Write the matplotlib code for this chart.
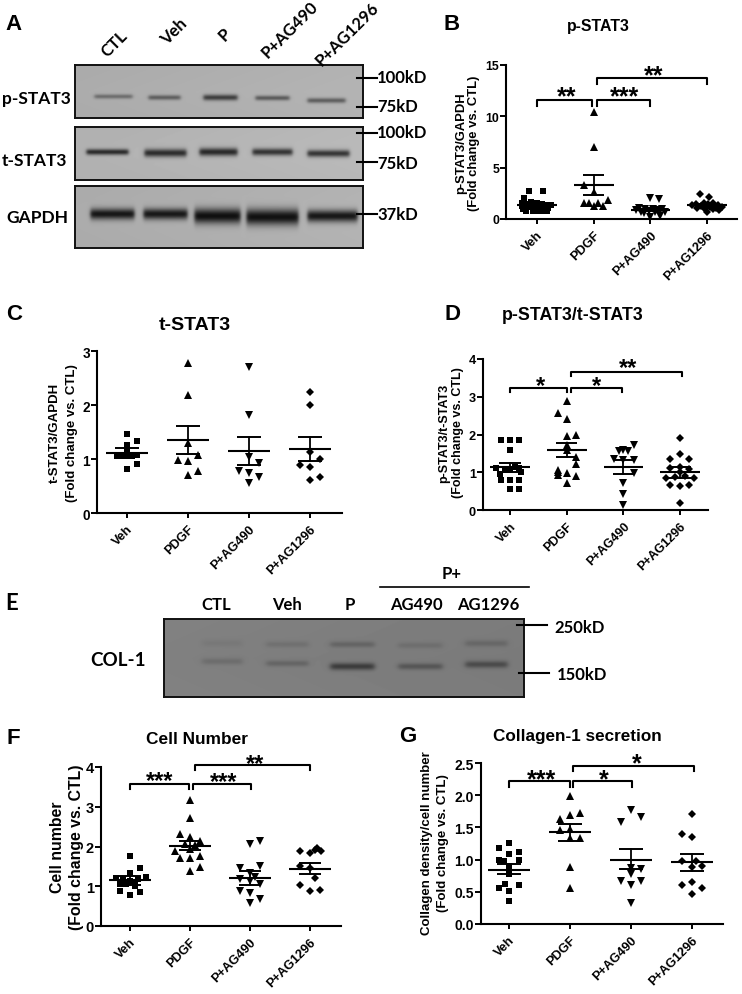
import numpy as np
import matplotlib
matplotlib.use("Agg")
import matplotlib.pyplot as plt
from matplotlib.transforms import ScaledTranslation

plt.rcParams['font.family'] = ['Liberation Sans', 'DejaVu Sans']
plt.rcParams['font.weight'] = 'bold'

W, H = 742, 995

# ---------- data ----------
groups = ["Veh", "PDGF", "P+AG490", "P+AG1296"]

B_values = [
    [2.7, 2.7, 2.0, 1.7, 1.6, 1.55, 1.5, 1.45, 1.4, 1.4, 1.3, 1.25, 1.2, 1.1, 1.05, 0.95, 0.9, 0.8, 0.8, 0.8, 0.75, 0.75],
    [10.4, 7.0, 3.3, 2.6, 1.85, 1.6, 1.6, 1.55, 1.3, 1.25],
    [2.0, 1.9, 1.05, 1.0, 1.0, 0.95, 0.9, 0.85, 0.8, 0.7, 0.7, 0.65, 0.55, 0.2, 0.25],
    [2.4, 2.15, 1.6, 1.55, 1.5, 1.45, 1.4, 1.35, 1.3, 1.2, 1.15, 1.1, 1.05, 1.0, 1.0, 0.9, 0.7],
]
B_offsets = [
    [-.14, .1, -.23, -.1, 0, -.27, .08, -.18, .25, .15, -.27, .05, -.15, .2, -.05, -.24, .13, -.2, -.07, .08, .17, .0],
    [0, 0, -.17, 0, .25, -.17, .08, -.09, .16, 0],
    [0, .16, -.2, -.1, .05, .2, -.25, .12, -.03, -.17, .26, .08, -.12, 0, .17],
    [-.13, .04, -.06, .1, -.2, .02, -.27, .2, -.1, .27, .06, -.18, .16, -.04, .1, .22, 0],
]
B_mean = [1.4, 3.3, 0.85, 1.4]
B_upper = [1.55, 4.3, 0.97, 1.5]
B_lower = [1.25, 2.33, 0.73, 1.28]

C_values = [
    [1.47, 1.26, 1.34, 1.05, 1.06, 1.15, 1.07, 1.05, 1.06, 0.82, 0.91],
    [2.78, 2.18, 1.3, 1.08, 0.99, 0.97, 0.7, 0.77],
    [2.70, 1.82, 1.03, 0.93, 0.77, 0.74, 0.67, 0.55],
    [2.25, 2.0, 1.13, 1.0, 0.88, 0.85, 0.62, 0.66],
]
C_offsets = [
    [0, 0, .17, -.16, -.08, 0, .17, .09, 0, 0, .17],
    [0, 0, 0, .16, -.16, 0, 0, .16],
    [0, 0, 0, .16, -.16, 0, .16, 0],
    [0, 0, 0, .16, -.16, 0, 0, .16],
]
C_mean = [1.12, 1.36, 1.14, 1.18]
C_upper = [1.2, 1.62, 1.41, 1.40]
C_lower = [1.04, 1.10, 0.88, 0.97]

D_values = [
    [1.85, 1.85, 1.85, 1.6, 1.15, 1.12, 1.1, 1.05, 1.05, 1.0, 0.95, 0.8, 0.8, 0.8, 0.55, 0.55],
    [2.89, 2.57, 2.4, 1.96, 2.0, 1.72, 1.6, 1.4, 1.06, 1.21, 0.92, 0.99, 0.9, 0.72, 1.0],
    [1.72, 1.58, 1.56, 1.55, 1.36, 1.33, 1.33, 0.97, 0.72, 0.42, 0.13],
    [1.9, 1.48, 1.34, 1.34, 1.15, 1.12, 1.08, 1.0, 0.86, 0.87, 0.9, 0.86, 0.66, 0.64, 0.66, 0.19],
]
D_offsets = [
    [-.16, 0, .16, 0, .08, -.25, .16, -.08, .0, .2, -.17, -.16, 0, .16, 0, .16],
    [0, -.16, 0, 0, .16, 0, 0, .16, -.16, .16, -.16, 0, .16, 0, -.16],
    [.18, 0, .08, -.08, -.17, 0, .18, .18, 0, 0, 0],
    [0, 0, -.18, .16, 0, -.18, .16, 0, -.25, -.09, .09, .25, -.18, 0, .16, 0],
]
D_mean = [1.13, 1.6, 1.13, 1.0]
D_upper = [1.25, 1.77, 1.33, 1.14]
D_lower = [1.0, 1.41, 0.95, 0.86]

F_values = [
    [1.75, 1.45, 1.34, 1.21, 1.19, 1.14, 1.24, 1.17, 1.06, 1.06, 1.06, 0.87, 0.85, 0.77, 1.0],
    [3.18, 2.71, 2.31, 2.23, 2.15, 2.06, 2.05, 1.88, 1.94, 1.75, 1.7, 1.71, 1.38, 1.48],
    [2.06, 2.13, 1.5, 1.46, 1.33, 1.23, 1.19, 1.14, 1.06, 0.87, 0.83, 0.68, 0.58],
    [1.88, 1.91, 1.88, 1.83, 1.95, 1.52, 1.46, 1.03, 0.89, 0.91, 1.2],
]
F_offsets = [
    [0, .16, 0, -.24, -.12, 0, .26, .13, -.17, -.07, .08, -.16, .16, 0, .08],
    [0, 0, -.17, 0, .16, -.08, .08, -.25, 0, .16, -.17, 0, 0, .16],
    [0, .16, .16, -.16, 0, .08, -.16, 0, .16, -.16, 0, .16, 0],
    [-.16, .08, .18, 0, .12, -.16, 0, -.16, 0, .16, .08],
]
F_mean = [1.15, 2.01, 1.21, 1.44]
F_upper = [1.27, 2.14, 1.38, 1.59]
F_lower = [1.03, 1.9, 1.04, 1.31]

G_values = [
    [1.26, 1.18, 1.09, 1.12, 1.0, 0.98, 1.0, 0.9, 0.78, 0.62, 0.6, 0.56, 0.52, 0.36],
    [1.99, 1.7, 1.73, 1.63, 1.46, 1.48, 1.34, 1.34, 0.89, 0.56],
    [1.77, 1.66, 1.59, 0.87, 0.85, 0.78, 0.66, 0.67, 0.61, 0.33],
    [1.71, 1.39, 1.35, 0.98, 0.98, 0.9, 0.88, 0.6, 0.65, 0.56, 0.47],
]
G_offsets = [
    [0, -.16, 0, .16, -.16, -.08, .16, 0, 0, -.07, .16, -.16, 0, 0],
    [0, 0, .16, -.16, -.16, 0, 0, .16, 0, 0],
    [0, .16, -.16, 0, .16, 0, -.16, .16, 0, 0],
    [0, -.17, 0, -.17, .07, .17, 0, -.17, 0, .17, 0],
]
G_mean = [0.84, 1.43, 1.0, 0.96]
G_upper = [0.93, 1.56, 1.17, 1.08]
G_lower = [0.77, 1.29, 0.85, 0.83]

# significance: (from group, to group, bracket top, tip end, stars, star x, star y)
B_sig = [(0, .97, 11.6, 11.0, "**", .52, 12.25), (1.05, 2.0, 11.6, 11.0, "***", 1.55, 12.25),
         (1.05, 3.0, 13.7, 13.1, "**", 2.05, 14.3)]
D_sig = [(0, 1.0, 3.24, 3.13, "*", .53, 3.4), (1.07, 1.98, 3.24, 3.13, "*", 1.53, 3.4),
         (1.07, 3.03, 3.66, 3.55, "**", 2.09, 3.86)]
F_sig = [(0, .98, 3.58, 3.44, "***", .49, 3.76), (1.05, 2.02, 3.58, 3.44, "***", 1.56, 3.73),
         (1.08, 3.0, 4.05, 3.92, "**", 2.08, 4.19)]
G_sig = [(0, 1.0, 2.215, 2.13, "***", .53, 2.31), (1.05, 2.02, 2.215, 2.13, "*", 1.55, 2.31),
         (1.05, 3.03, 2.46, 2.38, "*", 2.1, 2.55)]

# blot band strengths by lane (darkness, grey levels below background)
pstat_bands = [62, 78, 112, 85, 82]
tstat_bands = [135, 135, 140, 130, 130]
gapdh_bands = [150, 150, 160, 160, 155]
col_upper = [7, 14, 25, 14, 20]
col_lower = [18, 25, 65, 38, 48]

# ---------- helpers ----------
fig = plt.figure(figsize=(W / 100, H / 100), dpi=100, facecolor='white')


def ax_px(l, t, r, b, **kw):
    return fig.add_axes([l / W, 1 - b / H, (r - l) / W, (b - t) / H], **kw)


MARKERS = ['s', '^', 'v', 'D']
MSIZE = [4.7, 5.3, 5.3, 4.2]


def scatter_panel(rect, c0, c3, ymax, yticks, ticklabels, values, offsets, mean, up, lo,
                  sig=None, sfs=17, mhw=.35, tfs=9.2, yfs=9.0):
    l, t, r, b = rect
    ax = ax_px(l, t, r, b)
    sp = (c3 - c0) / 3
    ax.set_xlim((l - c0) / sp, (r - c0) / sp)
    ax.set_ylim(0, ymax)
    for i in range(4):
        x = i + np.array(offsets[i])
        ax.plot(x, values[i], ls='none', marker=MARKERS[i], ms=MSIZE[i], mfc='black', mec='black',
                mew=0, clip_on=False, zorder=3)
        ax.plot([i - mhw, i + mhw], [mean[i]] * 2, color='black', lw=1.5, zorder=4, solid_capstyle='butt')
        ax.plot([i - .19, i + .19], [up[i]] * 2, color='black', lw=1.4, zorder=4, solid_capstyle='butt')
        ax.plot([i - .19, i + .19], [lo[i]] * 2, color='black', lw=1.4, zorder=4, solid_capstyle='butt')
        ax.plot([i, i], [lo[i], up[i]], color='black', lw=1.3, zorder=4)
    for s in ('top', 'right'):
        ax.spines[s].set_visible(False)
    for s in ('left', 'bottom'):
        ax.spines[s].set_linewidth(1.5)
    ax.set_yticks(yticks)
    ax.set_yticklabels(ticklabels, fontsize=yfs, fontweight='bold')
    ax.set_xticks(range(4))
    ax.set_xticklabels(groups, rotation=45, ha='right', va='top', rotation_mode='anchor',
                       fontsize=tfs, fontweight='bold')
    shift = ScaledTranslation(-3 / 100, 0, fig.dpi_scale_trans)
    for lab in ax.get_xticklabels():
        lab.set_transform(lab.get_transform() + shift)
    ax.tick_params(axis='y', width=1.4, length=4, pad=1)
    ax.tick_params(axis='x', width=1.4, length=3.5, pad=3.5)
    if sig:
        for x0, x1, top, tip, stars, sx, sy in sig:
            ax.plot([x0, x0, x1, x1], [tip, top, top, tip], color='black', lw=1.5, clip_on=False,
                    solid_joinstyle='round')
            ax.annotate(stars, (sx, sy), xytext=(0, -0.43 * sfs), textcoords='offset points',
                        ha='center', va='baseline', fontsize=sfs, fontweight='bold',
                        annotation_clip=False)
    return ax


def blot(rect, bg, lanes, strengths, widths, ys, thick, grad=8, soft=2.0):
    l, t, r, b = rect
    ax = ax_px(l, t, r, b)
    xx, yy = np.meshgrid(np.arange(l, r, 1.0), np.arange(t, b, 1.0))
    img = bg + grad * (xx - l) / (r - l) - grad / 2 * np.abs(yy - (t + b) / 2) / (b - t)
    for cx, d, w, y, th in zip(lanes, strengths, widths, ys, thick):
        fx = 0.5 * (np.tanh((xx - (cx - w / 2)) / soft) - np.tanh((xx - (cx + w / 2)) / soft))
        fy = np.exp(-((yy - y) / th) ** 2)
        img = img - d * fx * fy
    ax.imshow(np.clip(img, 0, 255), cmap='gray', vmin=0, vmax=255, extent=(l, r, b, t),
              aspect='auto', interpolation='bilinear')
    ax.set_xticks([])
    ax.set_yticks([])
    for s in ax.spines.values():
        s.set_linewidth(1.4)
        s.set_color('#111111')
    return ax


# ---------- blots ----------
blot((75, 66, 363, 119), 172, [113, 164, 220, 272, 326], pstat_bands,
     [38, 32, 34, 34, 38], [97, 98, 98, 98.5, 101], [2.3, 2.5, 3, 2.5, 2.6])
blot((75, 127.5, 363, 181), 178, [107, 165, 218, 272, 328], tstat_bands,
     [42, 42, 38, 40, 42], [153, 154, 153, 153, 154.5], [3, 4, 4, 3.6, 3.6])
blot((75, 186.5, 363, 249), 172, [112, 165, 217, 272, 332], gapdh_bands,
     [44, 44, 46, 52, 50], [215, 215, 217, 218, 217], [5.5, 5.5, 7.5, 8, 6])
col_lanes = [222, 287, 352, 420, 486]
blot((164, 620, 524, 698), 128, col_lanes + col_lanes, col_upper + col_lower,
     [40, 42, 44, 44, 42] * 2, [644, 645, 645, 646, 644, 662, 664, 667, 667, 665],
     [3.5, 3, 3, 3, 3.2, 3.2, 3, 3.6, 3.2, 3.5], grad=-6, soft=3.0)

# ---------- scatter panels ----------
scatter_panel((506, 65.7, 737, 220), 537, 707, 15, [0, 5, 10, 15], ['0', '5', '10', '15'],
              B_values, B_offsets, B_mean, B_upper, B_lower, B_sig, sfs=18, tfs=9.2, yfs=8.8)
scatter_panel((97, 352, 342, 514), 127, 310, 3, [0, 1, 2, 3], ['0', '1', '2', '3'],
              C_values, C_offsets, C_mean, C_upper, C_lower, None, tfs=9.2, yfs=9.8)
scatter_panel((483, 360, 708, 511), 510, 680, 4, [0, 1, 2, 3, 4], ['0', '1', '2', '3', '4'],
              D_values, D_offsets, D_mean, D_upper, D_lower, D_sig, sfs=17, tfs=9.0, yfs=9.2)
scatter_panel((101, 768, 341, 927), 130, 310, 4, [0, 1, 2, 3, 4], ['0', '1', '2', '3', '4'],
              F_values, F_offsets, F_mean, F_upper, F_lower, F_sig, sfs=17, tfs=9.2, yfs=10.5)
scatter_panel((481, 764, 723, 925), 509, 692, 2.5, [0, .5, 1, 1.5, 2, 2.5],
              ['0.0', '0.5', '1.0', '1.5', '2.0', '2.5'],
              G_values, G_offsets, G_mean, G_upper, G_lower, G_sig, sfs=18, tfs=9.2, yfs=10)

# ---------- overlay annotations in pixel space ----------
ov = fig.add_axes([0, 0, 1, 1], facecolor='none')
ov.set_xlim(0, W)
ov.set_ylim(H, 0)
ov.axis('off')
LATO = ['Lato', 'DejaVu Sans']


def lt(x, y, s, fs=11.5, ha='center', rot=0):
    ov.text(x, y, s, family=LATO, fontweight='bold', fontsize=fs, ha=ha, va='center',
            rotation=rot, rotation_mode='anchor')


def at(x, y, s, fs, ha='center', rot=0):
    ov.text(x, y, s, fontweight='bold', fontsize=fs, ha=ha, va='center', rotation=rot,
            rotation_mode='anchor')


for x, y, s in [(14, 25, 'A'), (452, 25, 'B'), (14, 315, 'C'), (452, 315, 'D'),
                (13, 738, 'F'), (408, 737, 'G')]:
    at(x, y, s, 16)
lt(12, 604, 'E', fs=16)

for x, y, s in [(114, 44, 'CTL'), (174, 32, 'Veh'), (225, 35, 'P'), (290, 30, 'P+AG490'), (347, 34, 'P+AG1296')]:
    lt(x, y, s, fs=12, rot=45)
lt(36, 99, 'p-STAT3', fs=12.5)
lt(35, 161, 't-STAT3', fs=12.5)
lt(37, 218, 'GAPDH', fs=12.5)
for ytick, ylab, s in [(79, 78, '100kD'), (107.5, 107, '75kD'), (133.5, 133, '100kD'),
                       (163, 164, '75kD'), (215, 215, '37kD')]:
    ov.plot([357, 377], [ytick, ytick], color='black', lw=1.5)
    lt(377, ylab, s, fs=12, ha='left')

lt(216, 605, 'CTL', fs=12)
lt(287, 605, 'Veh', fs=12)
lt(350, 605, 'P', fs=12)
lt(416, 605, 'AG490', fs=12)
lt(488, 605, 'AG1296', fs=12)
lt(452, 574, 'P+', fs=12)
ov.plot([380, 529], [588, 588], color='black', lw=1.2)
lt(118, 661, 'COL-1', fs=13.5)
for ytick, ylab, s, x0, x1, xt in [(626, 628, '250kD', 517, 547, 554), (674, 675, '150kD', 519, 549, 557)]:
    ov.plot([x0, x1], [ytick, ytick], color='black', lw=1.5)
    lt(xt, ylab, s, fs=12, ha='left')

at(598, 27, 'p-STAT3', 11.4)
at(195, 325, 't-STAT3', 14)
at(573, 315, 'p-STAT3/t-STAT3', 12.8)
at(197, 739, 'Cell Number', 12.4)
at(577, 737, 'Collagen-1 secretion', 12.3)

at(461, 143, 'p-STAT3/GAPDH', 9.4, rot=90)
at(474, 143, '(Fold change vs. CTL)', 9.4, rot=90)
at(55, 433, 't-STAT3/GAPDH', 9.5, rot=90)
at(72, 433, '(Fold change vs. CTL)', 9.5, rot=90)
at(444, 433, 'p-STAT3/t-STAT3', 9.0, rot=90)
at(458, 433, '(Fold change vs. CTL)', 9.0, rot=90)
at(57, 847, 'Cell number', 11.4, rot=90)
at(76, 847, '(Fold change vs. CTL)', 11.4, rot=90)
at(427, 843, 'Collagen density/cell number', 9.5, rot=90)
at(443, 843, '(Fold change vs. CTL)', 9.5, rot=90)

fig.savefig('out.png', dpi=100)
